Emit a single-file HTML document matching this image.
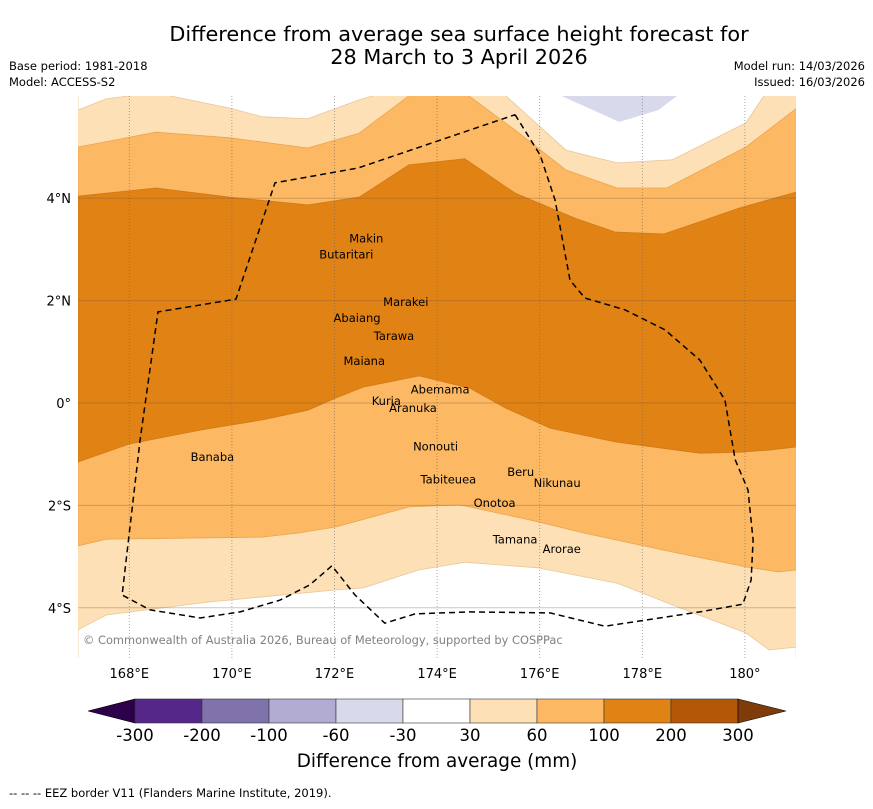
<!DOCTYPE html>
<html><head><meta charset="utf-8"><style>
body{margin:0;background:#fff;font-family:"Liberation Sans","DejaVu Sans",sans-serif;}
svg text{font-family:"DejaVu Sans","Liberation Sans",sans-serif;}
</style></head><body>
<svg id="c" width="873" height="804" viewBox="0 0 873 804" xmlns="http://www.w3.org/2000/svg">
<text x="459" y="41" font-size="20.8" text-anchor="middle">Difference from average sea surface height forecast for</text>
<text x="459" y="64" font-size="20.8" text-anchor="middle">28 March to 3 April 2026</text>
<text x="9" y="70" font-size="11.5">Base period: 1981-2018</text>
<text x="9" y="86" font-size="11.5">Model: ACCESS-S2</text>
<text x="865" y="70" font-size="11.5" text-anchor="end">Model run: 14/03/2026</text>
<text x="865" y="86" font-size="11.5" text-anchor="end">Issued: 16/03/2026</text>
<defs><clipPath id="mapclip"><rect x="78" y="96" width="718" height="562"/></clipPath></defs>
<g id="map" clip-path="url(#mapclip)"></g>
<g id="ticks"></g>
<g id="cbar"></g>
<text x="437" y="767" font-size="18.4" text-anchor="middle">Difference from average (mm)</text>
<text x="9" y="797" font-size="11.5">--  --  -- EEZ border V11 (Flanders Marine Institute, 2019).</text>
</svg>
<script>
const lonTicks=[168,170,172,174,176,178,180];
const lonTickLabels=["168°E","170°E","172°E","174°E","176°E","178°E","180°"];
const latTicks=[4,2,0,-2,-4];
const latTickLabels=["4°N","2°N","0°","2°S","4°S"];
const levels=["-300","-200","-100","-60","-30","30","60","100","200","300"];
const levelColors=["#2d004b","#542788","#8073ac","#b2abd2","#d8daeb","#ffffff","#fee0b6","#fdb863","#e08214","#b35806","#7f3b08"];
// contour boundaries [lon,lat]
const white30TopLeft=[[167,6.2],[167,5.72],[167.55,5.94],[168,6.0],[168,6.2]];
const white30TopMid=[[168.79,6.2],[168.79,6.0],[169.96,5.76],[170.59,5.59],[171.48,5.55],[172.48,5.92],[172.75,6.0],[172.75,6.2]];
const white30TopRight=[[175.34,6.2],[175.34,6.0],[176.51,4.94],[177.51,4.69],[178.58,4.75],[180.02,5.47],[180.37,6.0],[180.37,6.2]];
const purpleTop=[[176.42,6.2],[176.42,6.0],[177.55,5.49],[178.31,5.72],[178.68,6.0],[178.68,6.2]];
const line60Top=[[167,5.0],[168.52,5.29],[169.96,5.18],[171.48,4.98],[172.48,5.27],[173.45,6.0],[173.45,6.2],[174.62,6.2],[174.62,6.0],[175.52,5.33],[176.51,4.55],[177.51,4.2],[178.48,4.2],[180.02,5.0],[181,5.75]];
const line100Top=[[167,4.04],[168.52,4.2],[169.96,4.02],[171.48,3.87],[172.48,4.02],[173.45,4.65],[174.54,4.77],[175.52,4.1],[176.69,3.61],[177.47,3.34],[178.42,3.3],[179.12,3.54],[179.9,3.81],[181,4.12]];
const line100Bot=[[181,-0.86],[180.47,-0.92],[179.9,-0.96],[179.12,-0.98],[177.47,-0.76],[176.2,-0.49],[175.34,-0.1],[174.64,0.29],[173.65,0.53],[172.56,0.31],[172.03,0.1],[171.48,-0.14],[170.59,-0.33],[169.38,-0.53],[168,-0.8],[167,-1.15]];
const line60Bot=[[181,-3.26],[180.65,-3.3],[180.02,-3.2],[178.68,-2.93],[176.86,-2.54],[175.97,-2.32],[174.45,-1.99],[173.45,-2.03],[172.03,-2.42],[171.3,-2.54],[170.59,-2.62],[167.55,-2.66],[167,-2.79]];
const line30Bot=[[167,-4.43],[167.55,-4.14],[169.51,-3.89],[172.03,-3.65],[172.56,-3.61],[173.65,-3.26],[174.54,-3.11],[175.97,-3.22],[177.51,-3.52],[178.68,-3.98],[180.02,-4.49],[180.47,-4.82],[181,-4.77]];
const eez=[[175.52,5.63],[176.01,4.84],[176.3,3.96],[176.59,2.4],[176.88,2.05],[177.66,1.82],[178.44,1.43],[179.12,0.84],[179.61,0.06],[179.81,-1.11],[180.06,-1.7],[180.16,-2.68],[180.12,-3.46],[179.96,-3.93],[179.12,-4.08],[177.27,-4.36],[176.2,-4.1],[174.64,-4.08],[173.57,-4.12],[172.98,-4.3],[172.4,-3.75],[171.95,-3.18],[171.52,-3.55],[170.94,-3.85],[170.16,-4.08],[169.38,-4.2],[168.4,-4.04],[167.86,-3.75],[168.21,-0.72],[168.56,1.78],[170.08,2.03],[170.84,4.3],[172.46,4.59],[175.52,5.63]];
const islandNames=["Makin","Butaritari","Marakei","Abaiang","Tarawa","Maiana","Abemama","Kuria","Aranuka","Nonouti","Banaba","Beru","Nikunau","Tabiteuea","Onotoa","Tamana","Arorae"];
const islandLons=[172.62,172.23,173.39,172.44,173.16,172.58,174.06,173.01,173.53,173.97,169.62,175.63,176.34,174.22,175.12,175.52,176.43];
const islandLats=[3.21,2.9,1.97,1.66,1.31,0.82,0.26,0.04,-0.1,-0.85,-1.05,-1.35,-1.56,-1.49,-1.95,-2.67,-2.85];

const NS='http://www.w3.org/2000/svg';
const X=lon=>78+(lon-167)*51.3;
const Y=lat=>403-lat*51.2;
function mk(tag,attrs,parent){const e=document.createElementNS(NS,tag);for(const k in attrs)e.setAttribute(k,attrs[k]);parent.appendChild(e);return e;}
const pts=a=>a.map(p=>X(p[0]).toFixed(1)+','+Y(p[1]).toFixed(1)).join(' ');
const map=document.getElementById('map');
let r=mk('rect',{x:78,y:96,width:718,height:562,fill:levelColors[6]},map);


const edge='#e8c79a';
[white30TopLeft,white30TopMid,white30TopRight].forEach(a=>{
  const p=mk('polygon',{points:pts(a),fill:'#ffffff',stroke:edge,'stroke-width':0.8},map);
  
  
});
let pu=mk('polygon',{points:pts(purpleTop),fill:levelColors[4]},map);


let wb=mk('polygon',{points:pts(line30Bot.concat([[181,-6],[167,-6]])),fill:'#ffffff',stroke:edge,'stroke-width':0.8},map);


let med=mk('polygon',{points:pts(line60Top.concat(line60Bot)),fill:levelColors[7],stroke:'#e8a650','stroke-width':0.8},map);


let dk=mk('polygon',{points:pts(line100Top.concat(line100Bot)),fill:levelColors[8],stroke:'#cf7a1a','stroke-width':0.8},map);


lonTicks.forEach(l=>{let g=mk('line',{x1:X(l),x2:X(l),y1:96,y2:658,stroke:'#666','stroke-width':0.8,'stroke-dasharray':'1,2','stroke-opacity':0.7},map);

});
latTicks.forEach(l=>{let g=mk('line',{x1:78,x2:796,y1:Y(l),y2:Y(l),stroke:'#7a5a3a','stroke-width':1,'stroke-opacity':0.35},map);

});
let ez=mk('polyline',{points:pts(eez),fill:'none',stroke:'#000','stroke-width':1.5,'stroke-dasharray':'6,4'},map);


islandNames.forEach((n,i)=>{
  let t=mk('text',{x:X(islandLons[i]),y:Y(islandLats[i])+4,'font-size':11.5,'text-anchor':'middle',fill:'#000'},map);
  t.textContent=n;
  
  
});
let cp=mk('text',{x:83,y:644,'font-size':11.4,fill:'#808080'},map);
cp.textContent='© Commonwealth of Australia 2026, Bureau of Meteorology, supported by COSPPac';


const tk=document.getElementById('ticks');
lonTicks.forEach((l,i)=>{let t=mk('text',{x:X(l),y:678,'font-size':13,'text-anchor':'middle'},tk);t.textContent=lonTickLabels[i];

});
latTicks.forEach((l,i)=>{let t=mk('text',{x:71,y:Y(l)+5,'font-size':13,'text-anchor':'end'},tk);t.textContent=latTickLabels[i];

});
const cb=document.getElementById('cbar');
const cx0=135,cw=67,cy=699,ch=24;
let lt=mk('polygon',{points:`88,${cy+ch/2} ${cx0},${cy} ${cx0},${cy+ch}`,fill:levelColors[0],stroke:'#000','stroke-width':0.6},cb);


for(let i=0;i<9;i++){let s=mk('rect',{x:cx0+i*cw,y:cy,width:cw,height:ch,fill:levelColors[i+1],stroke:'#333','stroke-width':0.6},cb);

}
let rt=mk('polygon',{points:`${cx0+9*cw},${cy} 786,${cy+ch/2} ${cx0+9*cw},${cy+ch}`,fill:levelColors[10],stroke:'#000','stroke-width':0.6},cb);


levels.forEach((v,i)=>{let t=mk('text',{x:cx0+i*cw,y:741,'font-size':16.5,'text-anchor':'middle'},cb);t.textContent=v;

});
</script>
</body></html>
